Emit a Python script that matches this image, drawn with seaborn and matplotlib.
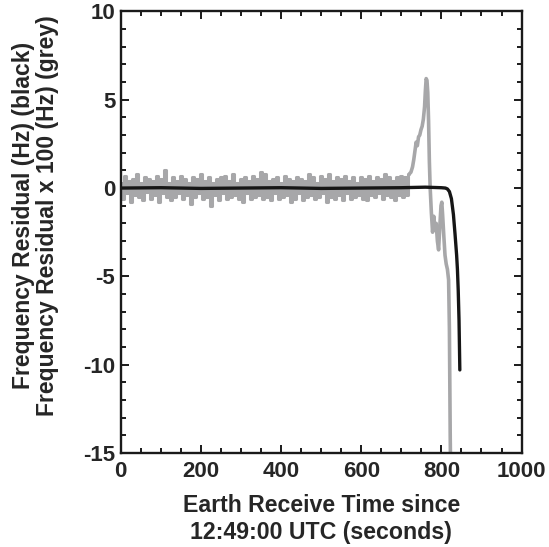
import numpy as np
import pandas as pd
import matplotlib
matplotlib.use("Agg")
import matplotlib.pyplot as plt
from matplotlib.ticker import MultipleLocator
import seaborn as sns

# ---- data ----
# grey trace (residual x 100), noisy part sampled every 5 s from 0 to 720 s
grey_noise_t = np.arange(0, 721, 5)
grey_noise_v = [
    0.3, -0.6, 0.7, -0.3, 0.4, -0.8, 0.5, -0.4, 0.8, -0.5,
    0.3, -0.7, 0.6, -0.2, 0.5, -0.6, 0.4, -0.4, 0.7, -0.8,
    0.5, -0.3, 1.0, -0.5, 0.3, -0.7, 0.6, -0.5, 0.4, -0.3,
    0.7, -0.6, 0.5, -0.4, 0.3, -0.9, 0.6, -0.5, 0.5, -0.3,
    0.8, -0.6, 0.4, -0.5, 0.6, -1.0, 0.3, -0.4, 0.5, -0.7,
    0.6, -0.3, 0.7, -0.6, 0.4, -0.5, 0.8, -0.4, 0.3, -0.6,
    0.5, -0.8, 0.6, -0.3, 0.4, -0.6, 0.7, -0.5, 0.5, -0.4,
    0.9, -0.6, 0.8, -0.5, 0.4, -0.7, 0.5, -0.3, 0.6, -0.6,
    0.3, -0.5, 0.7, -0.4, 0.5, -0.8, 0.4, -0.6, 0.6, -0.3,
    0.5, -0.7, 0.4, -0.5, 0.8, -0.4, 0.6, -0.6, 0.3, -0.5,
    0.7, -0.3, 0.5, -0.8, 0.8, -0.5, 0.4, -0.6, 0.6, -0.4,
    0.5, -0.7, 0.7, -0.3, 0.4, -0.6, 0.6, -0.5, 0.3, -0.4,
    0.6, -0.6, 0.5, -0.7, 0.7, -0.4, 0.4, -0.5, 0.6, -0.3,
    0.5, -0.6, 0.8, -0.4, 0.6, -0.5, 0.4, -0.7, 0.6, -0.4,
    0.7, -0.5, 0.6, -0.4, 0.8,
]
# grey trace, event part
grey_tail_t = [724, 728, 731, 734, 737, 740, 743, 746, 749, 752, 755, 758,
               760, 762, 764, 766, 768, 770, 772, 775, 778, 781, 784, 787,
               790, 793, 796, 799, 801, 803, 806, 809, 812, 815, 818, 820,
               821, 822, 823]
grey_tail_v = [0.9, 1.2, 1.6, 2.1, 2.6, 2.4, 2.9, 3.0, 3.3, 3.5, 3.9, 4.6,
               5.5, 6.2, 6.1, 5.4, 3.8, 1.5, 0.0, -1.4, -2.5, -1.6, -2.4, -2.0,
               -3.0, -3.5, -2.2, -1.0, -0.8, -1.5, -2.7, -3.8, -4.3, -4.6, -5.2,
               -8.0, -11.0, -14.0, -16.0]

# black trace (residual, Hz)
black_t = [0, 100, 200, 300, 400, 500, 600, 700, 760, 800, 810, 815, 820,
           825, 830, 834, 838, 840, 842, 844, 846]
black_v = [0.0, 0.02, -0.02, 0.0, 0.02, -0.02, 0.0, 0.02, 0.05, 0.02, 0.0,
           -0.05, -0.2, -0.6, -1.5, -2.6, -3.8, -4.6, -5.8, -7.5, -10.3]

# ticks
xticks = [0, 200, 400, 600, 800, 1000]
yticks = [-15, -10, -5, 0, 5, 10]

noise_df = pd.DataFrame({"t": grey_noise_t, "v": grey_noise_v})
tail_df = pd.DataFrame({
    "t": np.concatenate([[grey_noise_t[-1]], grey_tail_t]),
    "v": np.concatenate([[grey_noise_v[-1]], grey_tail_v]),
})
black_df = pd.DataFrame({"t": black_t, "v": black_v})

# ---- plotting ----
sns.set_style("ticks")
plt.rcParams["font.family"] = ["Liberation Sans", "DejaVu Sans"]
plt.rcParams["font.weight"] = "bold"

fig = plt.figure(figsize=(5.49, 5.47), dpi=100)
ax = fig.add_axes([0.220, 0.172, 0.730, 0.807])

grey = "#a7a7a9"
sns.lineplot(data=noise_df, x="t", y="v", ax=ax, color=grey,
             linewidth=2.2, estimator=None, sort=False, drawstyle="steps-mid")
sns.lineplot(data=tail_df, x="t", y="v", ax=ax, color=grey,
             linewidth=2.6, estimator=None, sort=False)
sns.lineplot(data=black_df, x="t", y="v", ax=ax, color="#161616",
             linewidth=2.4, estimator=None, sort=False)

ax.set_xlim(0, 1000)
ax.set_ylim(-15, 10)
ax.set_xticks(xticks)
ax.set_yticks(yticks)
ax.set_xticklabels([str(v) for v in xticks])
ax.set_yticklabels([str(v) for v in yticks])
ax.xaxis.set_minor_locator(MultipleLocator(50))
ax.yaxis.set_minor_locator(MultipleLocator(1))

ax.tick_params(which="both", direction="in", top=True, right=True,
               width=1.4, color="#1a1a1a", labelsize=16)
ax.tick_params(which="major", length=6)
ax.tick_params(which="minor", length=3.5)
ax.tick_params(axis="x", pad=6)
ax.tick_params(axis="y", pad=4)
for lbl in ax.get_xticklabels() + ax.get_yticklabels():
    lbl.set_fontweight("bold")

for s in ax.spines.values():
    s.set_visible(True)
    s.set_linewidth(1.7)
    s.set_color("#1a1a1a")

ax.set_xlabel("Earth Receive Time since\n12:49:00 UTC (seconds)",
              fontsize=16.7, fontweight="bold", linespacing=1.25)
ax.set_ylabel("Frequency Residual (Hz) (black)\nFrequency Residual x 100 (Hz) (grey)",
              fontsize=16.5, fontweight="bold", linespacing=1.05)
ax.xaxis.set_label_coords(0.5, -0.092)
ax.yaxis.set_label_coords(-0.155, 0.537)

fig.savefig("out.png", dpi=100)
